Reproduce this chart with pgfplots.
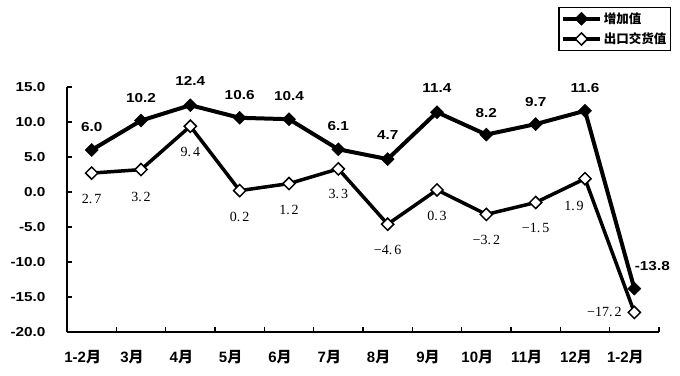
\documentclass[border=0pt]{standalone}
\usepackage{pgfplots}
\pgfplotsset{compat=1.18}
\usepackage{pgfplotstable}
\usepackage{fontspec}
\setmainfont{Liberation Sans}
\newfontfamily\numf{Liberation Sans}[FakeStretch=1.18]
\newfontfamily\serf{Liberation Serif}
\newfontfamily\cjk{Noto Sans CJK SC}
\newcommand{\xl}[1]{{\bfseries #1}{\cjk\bfseries 月}}

\pgfplotstableread{
x y lab dx dy
0 6.0 6.0 0 23
1 10.2 10.2 0 23
2 12.4 12.4 0 24
3 10.6 10.6 0 23
4 10.4 10.4 0 23
5 6.1 6.1 0 23
6 4.7 4.7 0 24
7 11.4 11.4 0 24
8 8.2 8.2 0 22
9 9.7 9.7 0 22
10 11.6 11.6 0 23
11 -13.8 -13.8 18 23
}\zjz

\pgfplotstableread{
x y lab dx dy
0 2.7 2.\kern2bp7 0 -26
1 3.2 3.\kern2bp2 0 -27
2 9.4 9.\kern2bp4 0 -26
3 0.2 0.\kern2bp2 0 -26
4 1.2 1.\kern2bp2 0 -26
5 3.3 3.\kern2bp3 0 -25
6 -4.6 −4.\kern2bp6 0 -26
7 0.3 0.\kern2bp3 0 -26
8 -3.2 −3.\kern2bp2 0 -26
9 -1.5 −1.\kern2bp5 0 -25
10 1.9 1.\kern2bp9 -11 -27
11 -17.2 −17.\kern2bp2 -30 0
}\ckjh

\begin{document}
\begin{tikzpicture}
\path[use as bounding box] (-67bp,-44bp) rectangle (613bp,332bp);
\begin{axis}[
  at={(0,0)}, anchor=south west,
  scale only axis, width=592bp, height=245bp,
  xmin=-0.5, xmax=11.5, ymin=-20, ymax=15,
  clip=false,
  axis x line=bottom, axis y line=left,
  axis line style={line width=1.5bp, -},
  xtick={-0.5,0.5,...,11.5}, xticklabels={},
  extra x ticks={0,1,2,3,4,5,6,7,8,9,10,11},
  extra x tick labels={\xl{1-2},\xl{3},\xl{4},\xl{5},\xl{6},\xl{7},\xl{8},\xl{9},\xl{10},\xl{11},\xl{12},\xl{1-2}},
  extra x tick style={major tick length=0pt, xticklabel style={xshift=-9bp, yshift=-15bp}},
  ytick={-20,-15,...,15},
  yticklabels={-20.0,-15.0,-10.0,-5.0,0.0,5.0,10.0,15.0},
  tick align=inside,
  major tick length=5bp,
  tick style={line width=1.2bp, black},
  yticklabel style={font=\numf\bfseries\fontsize{13bp}{15bp}\selectfont, xshift=-18bp},
  xticklabel style={font=\fontsize{15bp}{17bp}\selectfont},
  legend style={at={(1.0203,1.3265)}, anchor=north east, draw=black, line width=1.2bp,
    font=\cjk\bfseries\fontsize{12.5bp}{14bp}\selectfont, inner xsep=2bp, inner ysep=3bp,
    row sep=4bp},
  legend cell align=left,
  legend image code/.code={\draw[mark repeat=2,mark phase=2] plot coordinates {(0bp,0bp) (18.5bp,0bp) (37bp,0bp)};},
]
\addplot[black, line width=4bp, mark=square*, mark size=4.6bp,
  mark options={rotate=45, solid, fill=black, line width=0.5bp},
  nodes near coords, point meta=explicit symbolic,
  visualization depends on={\thisrow{dx} \as \dx},
  visualization depends on={\thisrow{dy} \as \dy},
  every node near coord/.append style={anchor=center, xshift=\dx bp, yshift=\dy bp,
    font=\numf\bfseries\fontsize{13bp}{15bp}\selectfont, black}]
  table[x=x, y=y, meta=lab] {\zjz};
\addlegendentry{增加值}
\addplot[black, line width=3.5bp, mark=square*, mark size=4.3bp,
  mark options={rotate=45, solid, fill=white, draw=black, line width=1.5bp},
  legend image post style={line width=4bp},
  nodes near coords, point meta=explicit symbolic,
  visualization depends on={\thisrow{dx} \as \dx},
  visualization depends on={\thisrow{dy} \as \dy},
  every node near coord/.append style={anchor=center, xshift=\dx bp, yshift=\dy bp,
    font=\serf\fontsize{14bp}{15bp}\selectfont, black}]
  table[x=x, y=y, meta=lab] {\ckjh};
\addlegendentry{出口交货值}
\end{axis}
\end{tikzpicture}
\end{document}
